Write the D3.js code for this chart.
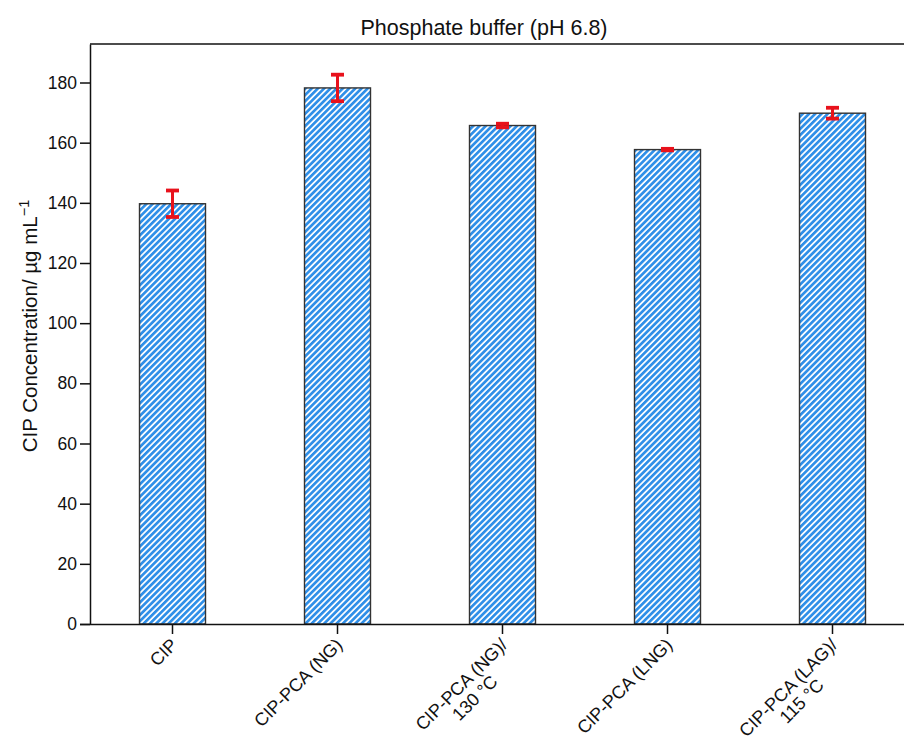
<!DOCTYPE html>
<html>
<head>
<meta charset="utf-8">
<script src="https://cdn.jsdelivr.net/npm/d3@7"></script>
<style>
  body { margin: 0; background: #fff; }
  svg { display: block; font-family: "Liberation Sans", Arial, Helvetica, sans-serif; }
</style>
</head>
<body>
<svg id="chart" width="904" height="741"></svg>
<script>
// Sample groups (label lines) and measured concentration with its spread
const categories = [
  ["CIP"],
  ["CIP-PCA (NG)"],
  ["CIP-PCA (NG)/", "130 °C"],
  ["CIP-PCA (LNG)"],
  ["CIP-PCA (LAG)/", "115 °C"]
];
const concentration = [139.7, 178.2, 165.7, 157.7, 169.8];
const errorSD = [4.4, 4.4, 0.6, 0.25, 1.8];
const yTicks = [0, 20, 40, 60, 80, 100, 120, 140, 160, 180];

const svg = d3.select("#chart");
const margin = { left: 90, top: 44, bottom: 624 };
const step = 165;

const x = d3.scaleBand()
  .domain(d3.range(categories.length))
  .range([margin.left, margin.left + step * categories.length])
  .paddingInner(0.6)
  .paddingOuter(0.3);

const y = d3.scaleLinear().domain([0, 192.8]).range([margin.bottom, margin.top]);

// diagonal hatch fill
const defs = svg.append("defs");
const pat = defs.append("pattern")
  .attr("id", "hatch")
  .attr("patternUnits", "userSpaceOnUse")
  .attr("width", 4.4).attr("height", 10)
  .attr("patternTransform", "rotate(45)");
pat.append("rect").attr("width", 4.4).attr("height", 10).attr("fill", "#ffffff");
pat.append("rect").attr("width", 2.7).attr("height", 10).attr("fill", "#2f8fe8");

// title
svg.append("text")
  .attr("x", 484).attr("y", 35)
  .attr("text-anchor", "middle")
  .attr("font-size", 21.5)
  .attr("fill", "#111")
  .text("Phosphate buffer (pH 6.8)");

// bars
svg.append("g").selectAll("rect")
  .data(concentration)
  .join("rect")
  .attr("x", (d, i) => x(i))
  .attr("y", d => y(d))
  .attr("width", x.bandwidth())
  .attr("height", d => y(0) - y(d))
  .attr("fill", "url(#hatch)")
  .attr("stroke", "#333")
  .attr("stroke-width", 1.4);

// error bars
const eb = svg.append("g").attr("stroke", "#e8121c").attr("fill", "none");
concentration.forEach((v, i) => {
  const cx = x(i) + x.bandwidth() / 2;
  const hi = y(v + errorSD[i]), lo = y(v - errorSD[i]);
  eb.append("line").attr("x1", cx).attr("x2", cx).attr("y1", hi).attr("y2", lo).attr("stroke-width", 3);
  [hi, lo].forEach(yy => {
    eb.append("line").attr("x1", cx - 6.5).attr("x2", cx + 6.5).attr("y1", yy).attr("y2", yy)
      .attr("stroke-width", 3.8);
  });
});

// top frame line
svg.append("line")
  .attr("x1", margin.left).attr("x2", 904)
  .attr("y1", margin.top).attr("y2", margin.top)
  .attr("stroke", "#111").attr("stroke-width", 1.5);

// y axis
const yAxis = svg.append("g")
  .attr("transform", `translate(${margin.left},0)`)
  .call(d3.axisLeft(y).tickValues(yTicks).tickSize(10).tickSizeOuter(0).tickPadding(3));
yAxis.select(".domain").attr("stroke", "#111").attr("stroke-width", 1.5);
yAxis.selectAll(".tick line").attr("stroke", "#111").attr("stroke-width", 1.5);
yAxis.selectAll(".tick text").attr("font-size", 17.5).attr("fill", "#111")
  .attr("font-family", "Liberation Sans, Arial, sans-serif");

// x axis
const xAxis = svg.append("g")
  .attr("transform", `translate(0,${margin.bottom})`)
  .call(d3.axisBottom(x).tickSize(10).tickSizeOuter(0).tickFormat(""));
xAxis.select(".domain").attr("stroke", "#111").attr("stroke-width", 1.5)
  .attr("d", `M${margin.left - 10},0.5H904`);
xAxis.selectAll(".tick line").attr("stroke", "#111").attr("stroke-width", 1.5);

// rotated category labels
categories.forEach((lines, i) => {
  const cx = x(i) + x.bandwidth() / 2;
  const g = svg.append("g")
    .attr("transform", `translate(${cx + 6},${margin.bottom + 22}) rotate(-45)`)
    .attr("font-size", 18).attr("fill", "#111");
  const first = g.append("text").attr("text-anchor", "end").attr("y", 0).text(lines[0]);
  if (lines.length > 1) {
    const w = first.node().getComputedTextLength();
    g.append("text").attr("text-anchor", "middle")
      .attr("x", -w / 2).attr("y", 19).text(lines[1]);
  }
});

// y axis title
const yt = svg.append("text")
  .attr("transform", `translate(37,${326}) rotate(-90)`)
  .attr("text-anchor", "middle")
  .attr("font-size", 20.5).attr("fill", "#111");
yt.append("tspan").text("CIP Concentration/ µg mL");
yt.append("tspan").attr("dy", -8).attr("font-size", 14.5).text("−1");
</script>
</body>
</html>
